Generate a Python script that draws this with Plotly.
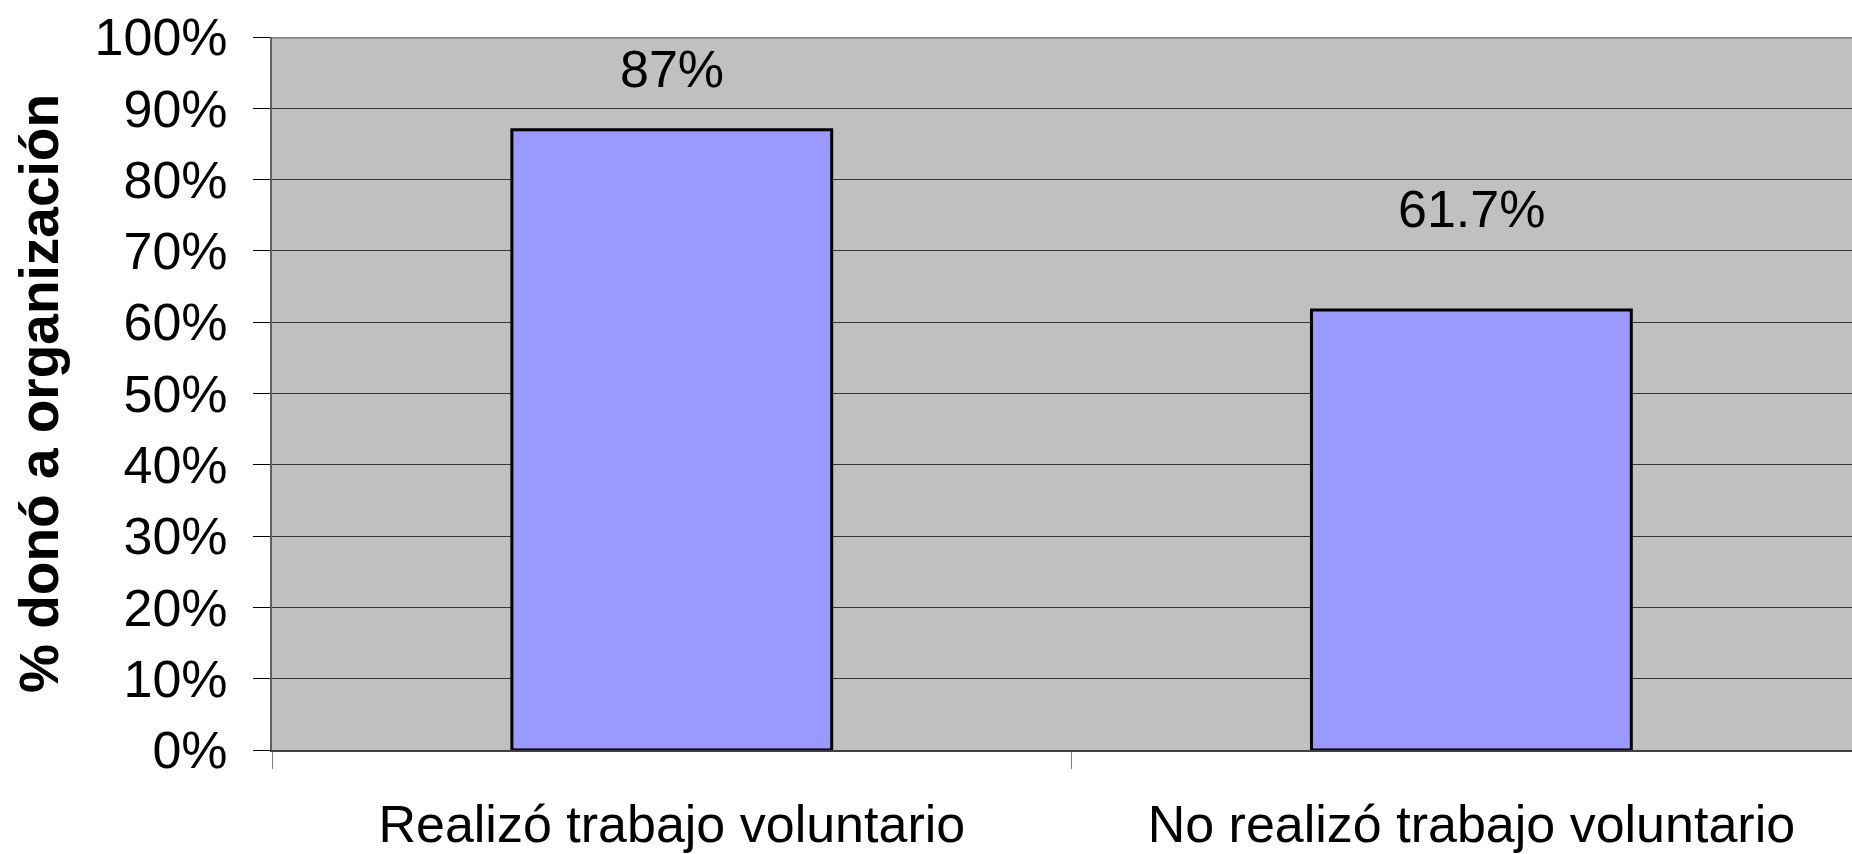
import plotly.graph_objects as go

# Share of people who donated to an organization, by volunteering status
categories = ["Realizó trabajo voluntario", "No realizó trabajo voluntario"]
donated_share = [0.87, 0.617]
value_labels = ["87%", "61.7%"]

FONT = "Liberation Sans, Arial, sans-serif"

fig = go.Figure(
    go.Bar(
        x=categories,
        y=donated_share,
        width=0.4,
        marker=dict(color="#9999FF", line=dict(color="#000000", width=3)),
        hoverinfo="skip",
    )
)

# Value labels sit above each bar (offsets in pixels)
label_shift = [61, 101]
for cat, val, txt, dy in zip(categories, donated_share, value_labels, label_shift):
    fig.add_annotation(
        x=cat, y=val, text=txt, showarrow=False,
        yanchor="middle", yshift=dy,
        font=dict(family=FONT, size=52, color="#000000"),
    )

# Upper border of the plotting area
fig.add_shape(
    type="line", xref="paper", yref="y", x0=0, x1=1, y0=1, y1=1,
    line=dict(color="#808080", width=3), layer="above",
)

fig.update_layout(
    width=1852, height=854,
    margin=dict(l=272, r=0, t=37, b=104),
    paper_bgcolor="#FFFFFF",
    plot_bgcolor="#C0C0C0",
    showlegend=False,
    bargap=0.6,
    font=dict(family=FONT, color="#000000"),
)

fig.update_xaxes(
    range=[-0.5, 1.476],
    showgrid=False,
    showline=True, linecolor="#404040", linewidth=2,
    ticks="outside", tickson="boundaries", ticklen=17,
    tickcolor="#808080", tickwidth=1,
    ticklabelstandoff=28,
    tickfont=dict(family=FONT, size=52, color="#000000"),
    fixedrange=True,
)

fig.update_yaxes(
    range=[0, 1],
    dtick=0.1, tick0=0,
    tickformat=".0%",
    showgrid=True, gridcolor="#333333", gridwidth=1,
    zeroline=False,
    showline=True, linecolor="#606060", linewidth=2,
    ticks="outside", ticklen=17, tickcolor="#000000", tickwidth=1,
    ticklabelstandoff=15,
    tickfont=dict(family=FONT, size=52, color="#000000"),
    title=dict(
        text="<b>% donó a organización</b>",
        font=dict(family=FONT, size=55, color="#000000"),
        standoff=18,
    ),
    fixedrange=True,
)

fig.write_html("out.html")
